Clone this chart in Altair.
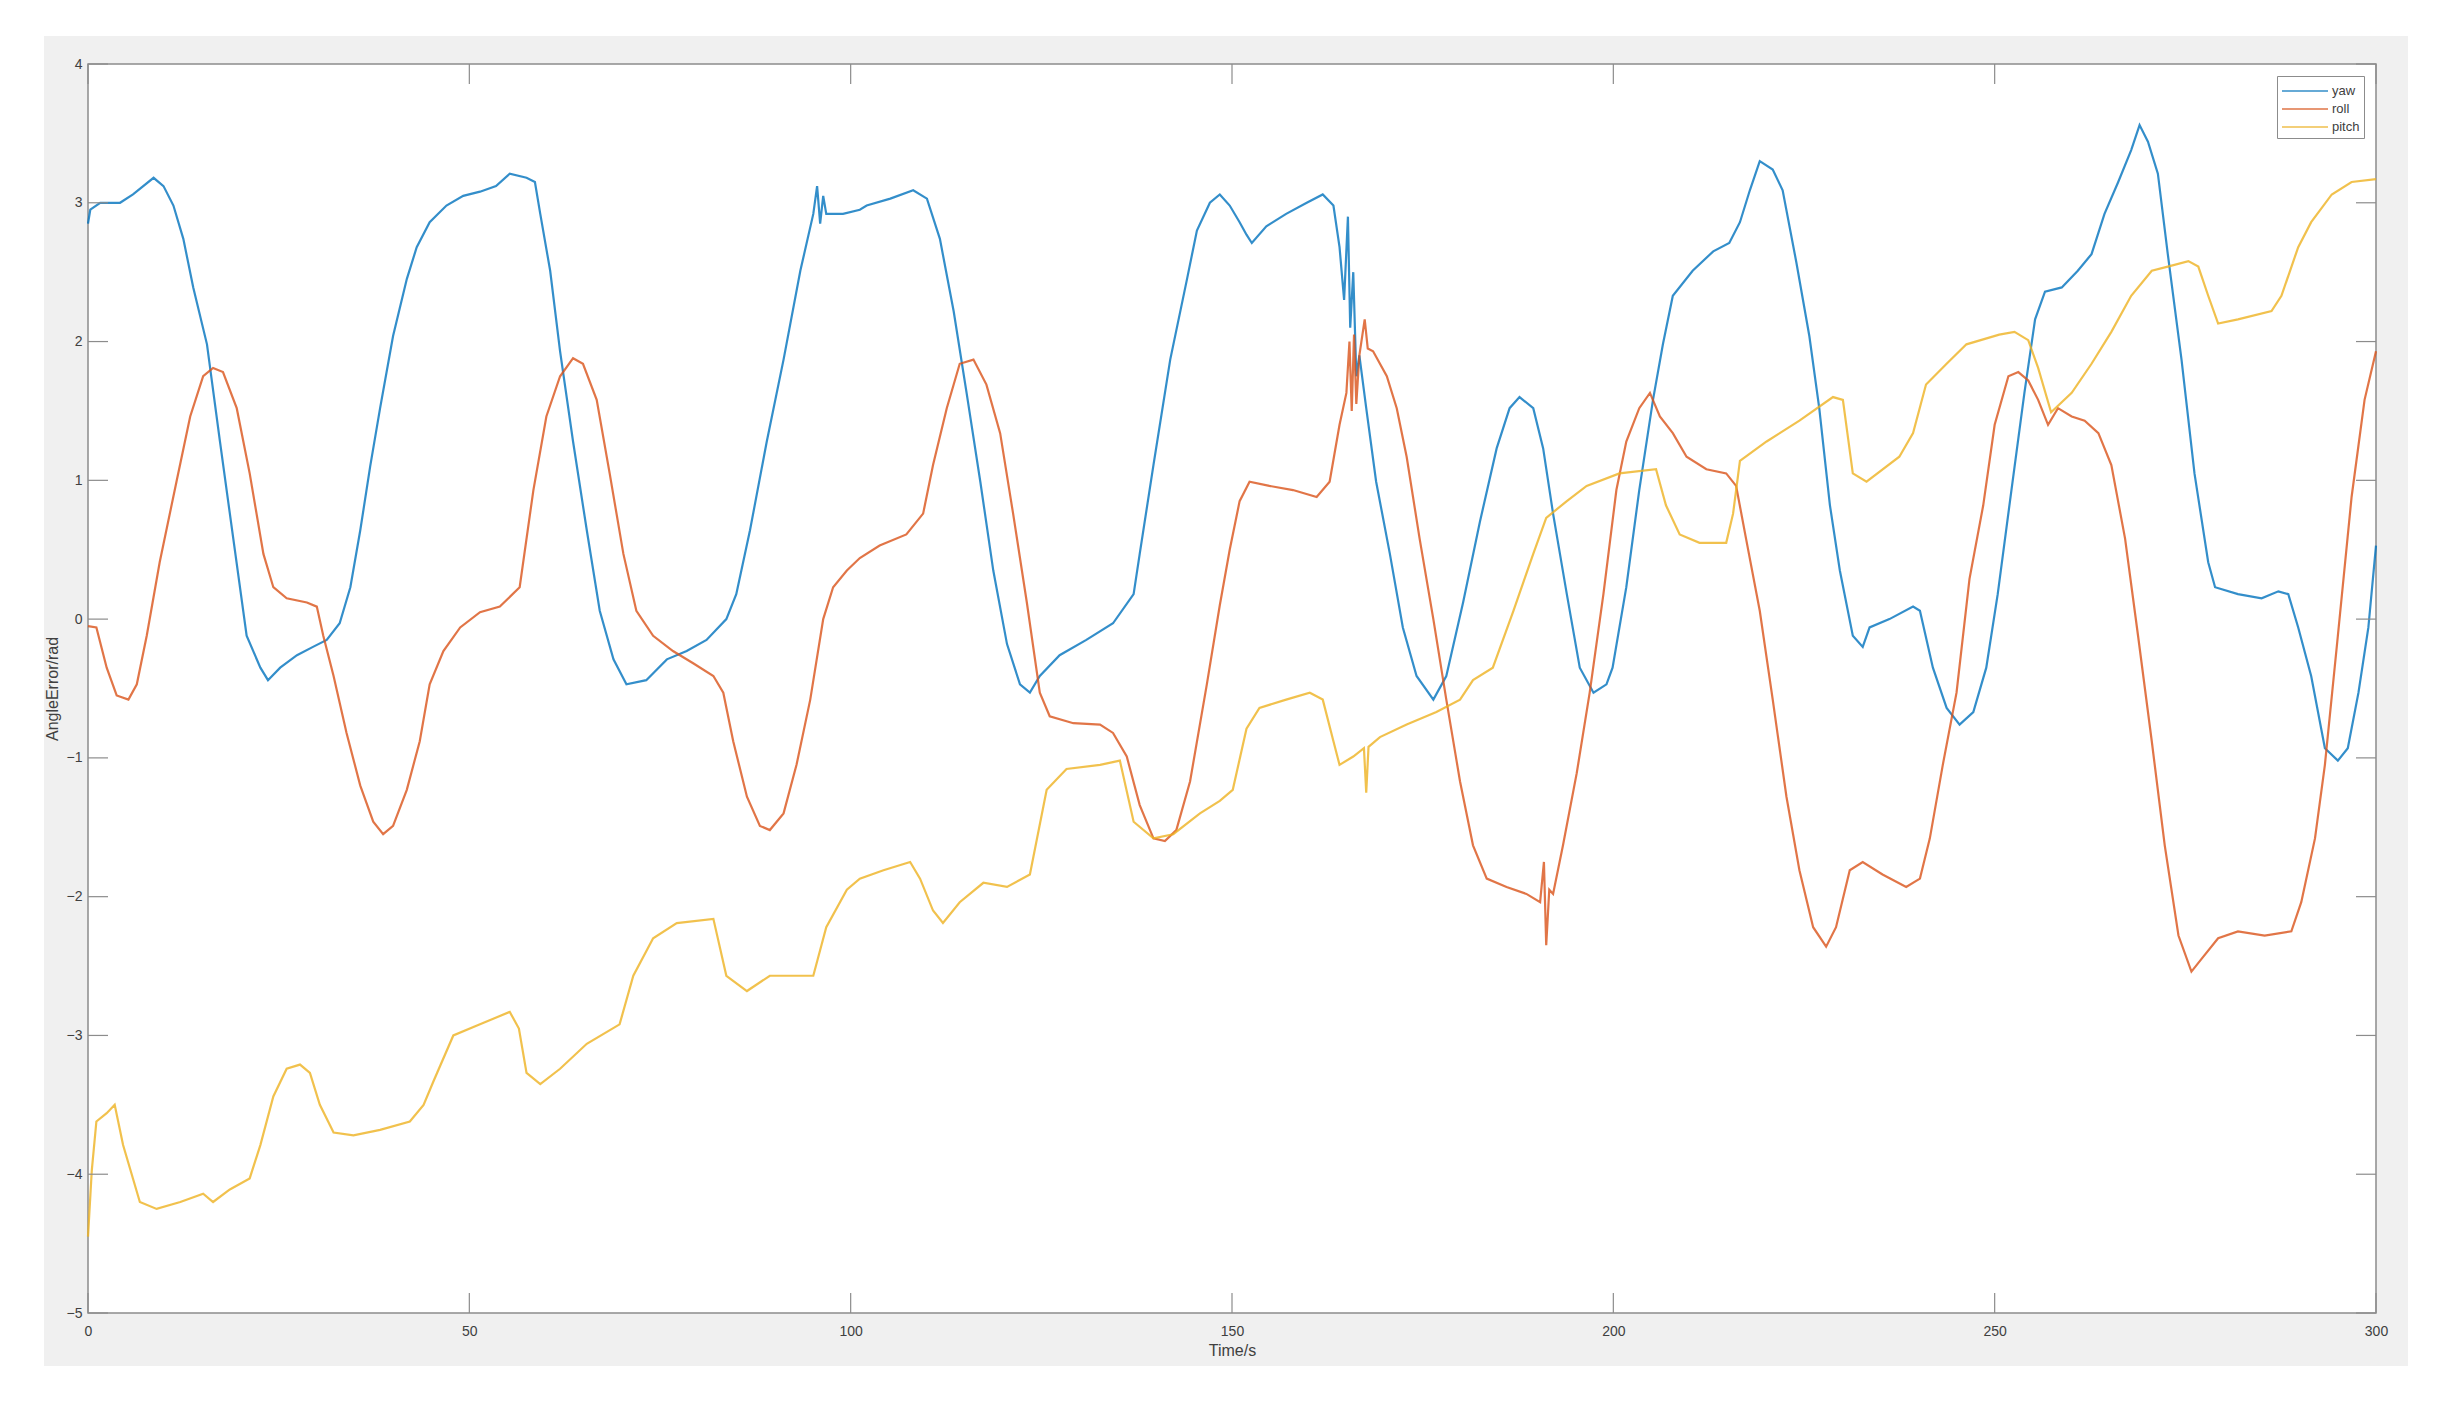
import altair as alt
import pandas as pd

# ---------------- data ----------------
yaw_t = [0, 0.3, 1.6, 4.2, 5.9, 8.6, 9.9, 11.2, 12.5, 13.8, 15.6, 17.3, 19.05, 20.8, 22.6, 23.6, 25.2, 27.4, 29.5, 31.3,
         33.0, 34.4, 35.7, 37.0, 38.3, 40.0, 41.8, 43.1, 44.8, 47.0, 49.2, 51.4, 53.5, 55.3, 57.5, 58.6, 59.3, 60.6, 61.9, 63.6,
         65.4, 67.1, 68.9, 70.6, 73.2, 75.9, 78.5, 81.1, 83.7, 85.0, 86.8, 89.0, 91.2, 93.4, 95.1, 95.6, 96.0, 96.4, 96.8, 99.0,
         101.2, 102.1, 105.2, 108.2, 110.0, 111.7, 113.5, 115.2, 117.0, 118.7, 120.5, 122.2, 123.5, 124.8, 127.4, 130.9, 134.4, 137.1, 137.9, 139.7,
         141.9, 144.1, 145.4, 147.1, 148.4, 149.7, 151.0, 151.9, 152.6, 154.5, 157.1, 159.8, 161.9, 163.3, 164.1, 164.7, 165.2, 165.5, 165.9, 166.3,
         166.7, 167.6, 168.9, 170.7, 172.4, 174.2, 176.4, 178.1, 180.3, 182.5, 184.7, 186.4, 187.7, 189.5, 190.8, 192.1, 193.9, 195.6, 197.4, 199.1,
         199.9, 201.7, 203.4, 205.2, 206.5, 207.8, 210.4, 213.1, 215.2, 216.6, 217.9, 219.2, 220.9, 222.2, 224.0, 225.7, 227.0, 228.4, 229.7, 231.4,
         232.7, 233.6, 236.2, 239.3, 240.2, 241.9, 243.7, 245.4, 247.2, 248.9, 250.4, 252.2, 253.9, 255.3, 256.6, 258.8, 260.9, 262.7, 264.4, 266.2,
         267.9, 269.0, 270.1, 271.4, 272.7, 274.5, 276.2, 278.0, 278.9, 281.9, 285.0, 287.2, 288.5, 289.8, 291.5, 293.3, 295.0, 296.3, 297.7, 299.0,
         300]
yaw_v = [2.85, 2.95, 3.0, 3.0, 3.06, 3.18, 3.12, 2.98, 2.74, 2.39, 1.98, 1.28, 0.58, -0.12, -0.35, -0.44, -0.35, -0.26, -0.2, -0.15,
         -0.03, 0.23, 0.64, 1.1, 1.52, 2.04, 2.45, 2.68, 2.86, 2.98, 3.05, 3.08, 3.12, 3.21, 3.18, 3.15, 2.92, 2.51, 1.93, 1.28,
         0.64, 0.06, -0.29, -0.47, -0.44, -0.29, -0.23, -0.15, 0.0, 0.18, 0.64, 1.28, 1.87, 2.51, 2.92, 3.12, 2.85, 3.05, 2.92, 2.92,
         2.95, 2.98, 3.03, 3.09, 3.03, 2.74, 2.22, 1.63, 0.99, 0.35, -0.18, -0.47, -0.53, -0.41, -0.26, -0.15, -0.03, 0.18, 0.47, 1.11,
         1.87, 2.45, 2.8, 3.0, 3.06, 2.98, 2.86, 2.77, 2.71, 2.83, 2.92, 3.0, 3.06, 2.98, 2.68, 2.3, 2.9, 2.1, 2.5, 1.75,
         1.9, 1.52, 0.99, 0.47, -0.06, -0.41, -0.58, -0.41, 0.12, 0.7, 1.23, 1.52, 1.6, 1.52, 1.23, 0.76, 0.18, -0.35, -0.53, -0.47,
         -0.35, 0.23, 0.93, 1.58, 1.98, 2.33, 2.51, 2.65, 2.71, 2.86, 3.09, 3.3, 3.24, 3.09, 2.57, 2.04, 1.52, 0.82, 0.35, -0.12,
         -0.2, -0.06, 0.0, 0.09, 0.06, -0.35, -0.64, -0.76, -0.67, -0.35, 0.18, 0.93, 1.63, 2.16, 2.36, 2.39, 2.51, 2.63, 2.92, 3.15,
         3.38, 3.56, 3.44, 3.21, 2.63, 1.87, 1.05, 0.41, 0.23, 0.18, 0.15, 0.2, 0.18, -0.06, -0.41, -0.93, -1.02, -0.93, -0.53, -0.06,
         0.53]

roll_t = [0, 1.1, 2.45, 3.76, 5.3, 6.4, 7.7, 9.4, 11.6, 13.4, 15.1, 16.4, 17.7, 19.5, 21.2, 23.0, 24.3, 26.05, 28.7, 30.0,
          30.85, 32.2, 33.9, 35.7, 37.4, 38.7, 40.0, 41.8, 43.5, 44.8, 46.6, 48.8, 51.4, 54.0, 56.6, 58.4, 60.1, 61.9, 63.6, 64.9,
          66.7, 68.4, 70.2, 71.9, 74.1, 76.7, 79.4, 82.0, 83.3, 84.6, 86.4, 88.1, 89.4, 91.2, 92.9, 94.7, 96.4, 97.7, 99.5, 101.2,
          103.8, 107.3, 109.5, 110.8, 112.6, 114.3, 116.1, 117.8, 119.6, 121.3, 123.1, 124.8, 126.1, 129.2, 132.7, 134.4, 136.2, 137.9, 139.7, 141.2,
          142.7, 144.5, 146.7, 148.4, 149.7, 151.0, 152.3, 154.9, 158.0, 161.1, 162.8, 164.1, 165.0, 165.4, 165.7, 166.0, 166.3, 166.7, 167.4, 167.8,
          168.5, 170.3, 171.6, 172.9, 174.6, 176.4, 178.1, 179.9, 181.6, 183.4, 186.0, 188.6, 190.4, 190.9, 191.2, 191.6, 192.1, 193.4, 195.2, 196.9,
          198.7, 200.4, 201.7, 203.4, 204.8, 206.1, 207.8, 209.6, 212.2, 214.8, 216.1, 217.4, 219.2, 220.9, 222.7, 224.4, 226.2, 227.9, 229.2, 231.0,
          232.7, 235.3, 238.4, 240.2, 241.5, 243.2, 245.0, 246.7, 248.5, 250.0, 251.8, 253.1, 254.4, 255.7, 257.0, 258.3, 260.1, 261.8, 263.6, 265.3,
          267.1, 268.8, 270.6, 272.3, 274.1, 275.8, 277.1, 279.3, 281.9, 285.4, 288.9, 290.2, 292.0, 293.3, 295.0, 296.8, 298.5, 300]
roll_v = [-0.05, -0.06, -0.35, -0.55, -0.58, -0.47, -0.12, 0.41, 0.99, 1.46, 1.75, 1.81, 1.78, 1.52, 1.05, 0.47, 0.23, 0.15, 0.12, 0.09,
          -0.12, -0.41, -0.82, -1.2, -1.46, -1.55, -1.49, -1.23, -0.88, -0.47, -0.23, -0.06, 0.05, 0.09, 0.23, 0.93, 1.46, 1.75, 1.88, 1.84,
          1.58, 1.05, 0.47, 0.06, -0.12, -0.23, -0.32, -0.41, -0.53, -0.88, -1.28, -1.49, -1.52, -1.4, -1.05, -0.58, 0.0, 0.23, 0.35, 0.44,
          0.53, 0.61, 0.76, 1.11, 1.52, 1.84, 1.87, 1.69, 1.34, 0.76, 0.12, -0.53, -0.7, -0.75, -0.76, -0.82, -0.99, -1.34, -1.58, -1.6,
          -1.52, -1.17, -0.47, 0.1, 0.5, 0.85, 0.99, 0.96, 0.93, 0.88, 0.99, 1.4, 1.63, 2.0, 1.5, 2.05, 1.55, 1.9, 2.16, 1.95,
          1.93, 1.75, 1.52, 1.17, 0.58, 0.0, -0.58, -1.17, -1.63, -1.87, -1.93, -1.98, -2.04, -1.75, -2.35, -1.95, -1.98, -1.63, -1.11, -0.53,
          0.18, 0.93, 1.28, 1.52, 1.63, 1.46, 1.34, 1.17, 1.08, 1.05, 0.96, 0.58, 0.06, -0.58, -1.28, -1.81, -2.22, -2.36, -2.22, -1.81,
          -1.75, -1.84, -1.93, -1.87, -1.58, -1.05, -0.53, 0.29, 0.82, 1.4, 1.75, 1.78, 1.72, 1.58, 1.4, 1.52, 1.46, 1.43, 1.34, 1.11,
          0.58, -0.12, -0.88, -1.63, -2.28, -2.54, -2.45, -2.3, -2.25, -2.28, -2.25, -2.04, -1.58, -1.05, -0.12, 0.88, 1.58, 1.93]

pitch_t = [0, 0.5, 1.1, 2.45, 3.5, 4.6, 6.8, 9.0, 12.1, 15.1, 16.4, 18.6, 21.2, 22.6, 24.3, 26.05, 27.8, 29.1, 30.4, 32.2,
           34.8, 38.3, 42.2, 44.0, 45.3, 47.9, 51.4, 55.3, 56.5, 57.5, 59.3, 61.9, 65.4, 69.7, 71.5, 74.1, 77.2, 82.0, 83.7, 86.4,
           89.4, 95.1, 96.8, 99.5, 101.2, 104.3, 107.8, 109.1, 110.8, 112.1, 114.3, 117.4, 120.5, 123.5, 125.7, 128.3, 132.7, 135.3, 137.1, 139.7,
           142.3, 145.8, 148.4, 150.1, 151.9, 153.6, 157.1, 160.2, 161.9, 163.3, 164.1, 165.9, 167.3, 167.6, 167.9, 169.4, 172.9, 176.8, 179.9, 181.6,
           184.2, 186.9, 189.5, 191.2, 193.9, 196.5, 200.8, 205.6, 206.9, 208.7, 211.3, 214.8, 215.7, 216.6, 220.1, 224.4, 228.8, 230.1, 231.4, 233.2,
           237.5, 239.3, 241.0, 243.7, 246.3, 250.6, 252.6, 254.4, 255.7, 257.4, 260.1, 262.7, 265.3, 267.9, 270.6, 272.7, 275.4, 276.7, 278.0, 279.3,
           281.9, 286.3, 287.6, 289.8, 291.5, 294.2, 296.8, 300]
pitch_v = [-4.45, -3.97, -3.62, -3.56, -3.5, -3.79, -4.2, -4.25, -4.2, -4.14, -4.2, -4.11, -4.03, -3.79, -3.44, -3.24, -3.21, -3.27, -3.5, -3.7,
           -3.72, -3.68, -3.62, -3.5, -3.33, -3.0, -2.92, -2.83, -2.95, -3.27, -3.35, -3.24, -3.06, -2.92, -2.57, -2.3, -2.19, -2.16, -2.57, -2.68,
           -2.57, -2.57, -2.22, -1.95, -1.87, -1.81, -1.75, -1.87, -2.1, -2.19, -2.04, -1.9, -1.93, -1.84, -1.23, -1.08, -1.05, -1.02, -1.46, -1.58,
           -1.55, -1.4, -1.31, -1.23, -0.79, -0.64, -0.58, -0.53, -0.58, -0.88, -1.05, -0.99, -0.93, -1.25, -0.92, -0.85, -0.76, -0.67, -0.58, -0.44,
           -0.35, 0.06, 0.47, 0.73, 0.85, 0.96, 1.05, 1.08, 0.82, 0.61, 0.55, 0.55, 0.76, 1.14, 1.28, 1.43, 1.6, 1.58, 1.05, 0.99,
           1.17, 1.34, 1.69, 1.84, 1.98, 2.05, 2.07, 2.01, 1.81, 1.49, 1.63, 1.84, 2.07, 2.33, 2.51, 2.54, 2.58, 2.54, 2.33, 2.13,
           2.16, 2.22, 2.33, 2.68, 2.86, 3.06, 3.15, 3.17]

series_names = ["yaw", "roll", "pitch"]
series_colors = ["#0072BD", "#D95319", "#EDB120"]
x_ticks = [0, 50, 100, 150, 200, 250, 300]
y_ticks = [-5, -4, -3, -2, -1, 0, 1, 2, 3, 4]
x_title = "Time/s"
y_title = "AngleError/rad"

# ---------------- build tables ----------------
rows = []
for name, ts, vs in [("yaw", yaw_t, yaw_v), ("roll", roll_t, roll_v), ("pitch", pitch_t, pitch_v)]:
    for t, v in zip(ts, vs):
        rows.append({"t": t, "v": v, "series": name})
df = pd.DataFrame(rows)
xt = pd.DataFrame({"t": x_ticks})
yt = pd.DataFrame({"v": y_ticks})
one = pd.DataFrame({"k": [0]})

W, H = 2288, 1249
TICK = 20
FONT = "Liberation Sans"
TXT = "#404040"
BOX = "#8c8c8c"

xs = alt.Scale(domain=[0, 300], nice=False, zero=False)
ys = alt.Scale(domain=[-5, 4], nice=False, zero=False)

fig_bg = alt.Chart(one).mark_rect(color="#f0f0f0").encode(
    x=alt.value(-44), x2=alt.value(W + 32), y=alt.value(-28), y2=alt.value(H + 53))
plot_bg = alt.Chart(one).mark_rect(fill="white", stroke=BOX, strokeWidth=1.5).encode(
    x=alt.value(0), x2=alt.value(W), y=alt.value(0), y2=alt.value(H))

lines = alt.Chart(df).mark_line(strokeWidth=2.2, opacity=0.8).encode(
    x=alt.X("t:Q", scale=xs,
            axis=alt.Axis(values=x_ticks, format="d", title=x_title, ticks=False, domain=False, grid=False,
                          labelPadding=11, labelFlush=False, labelFontSize=14, titleFontSize=16,
                          titleFontWeight="normal", titlePadding=4, labelColor=TXT, titleColor=TXT,
                          labelFont=FONT, titleFont=FONT, zindex=1)),
    y=alt.Y("v:Q", scale=ys,
            axis=alt.Axis(values=y_ticks, format="d", title=y_title, ticks=False, domain=False, grid=False,
                          labelPadding=6, labelFontSize=14, titleFontSize=16, titleFontWeight="normal",
                          titlePadding=6, labelColor=TXT, titleColor=TXT, labelFont=FONT,
                          titleFont=FONT, zindex=1)),
    color=alt.Color("series:N", scale=alt.Scale(domain=series_names, range=series_colors),
                    legend=alt.Legend(title=None, orient="none", legendX=2189, legendY=12,
                                      symbolType="M-2.3,0H2.3", symbolSize=400, symbolOffset=13,
                                      symbolStrokeWidth=1.5, symbolFillColor="transparent",
                                      labelFontSize=13, labelFont=FONT, labelColor=TXT,
                                      strokeColor=BOX, fillColor="white", padding=4,
                                      rowPadding=0, labelOffset=16)),
    order=alt.Order("t:Q"),
)

left_ticks = alt.Chart(yt).mark_rule(color=BOX, strokeWidth=1.2).encode(
    y=alt.Y("v:Q", scale=ys), x=alt.value(0), x2=alt.value(TICK))
right_ticks = alt.Chart(yt).mark_rule(color=BOX, strokeWidth=1.2).encode(
    y=alt.Y("v:Q", scale=ys), x=alt.value(W - TICK), x2=alt.value(W))
bottom_ticks = alt.Chart(xt).mark_rule(color=BOX, strokeWidth=1.2).encode(
    x=alt.X("t:Q", scale=xs), y=alt.value(H - TICK), y2=alt.value(H))
top_ticks = alt.Chart(xt).mark_rule(color=BOX, strokeWidth=1.2).encode(
    x=alt.X("t:Q", scale=xs), y=alt.value(0), y2=alt.value(TICK))

chart = alt.layer(fig_bg, plot_bg, lines, left_ticks, right_ticks, bottom_ticks, top_ticks).properties(
    width=W, height=H,
    autosize=alt.AutoSizeParams(type="none"),
    padding={"left": 80, "top": 56, "right": 40, "bottom": 60},
    background="white",
).configure_view(stroke=None)

chart.save("out.html", embed_options={"renderer": "svg", "actions": False})
